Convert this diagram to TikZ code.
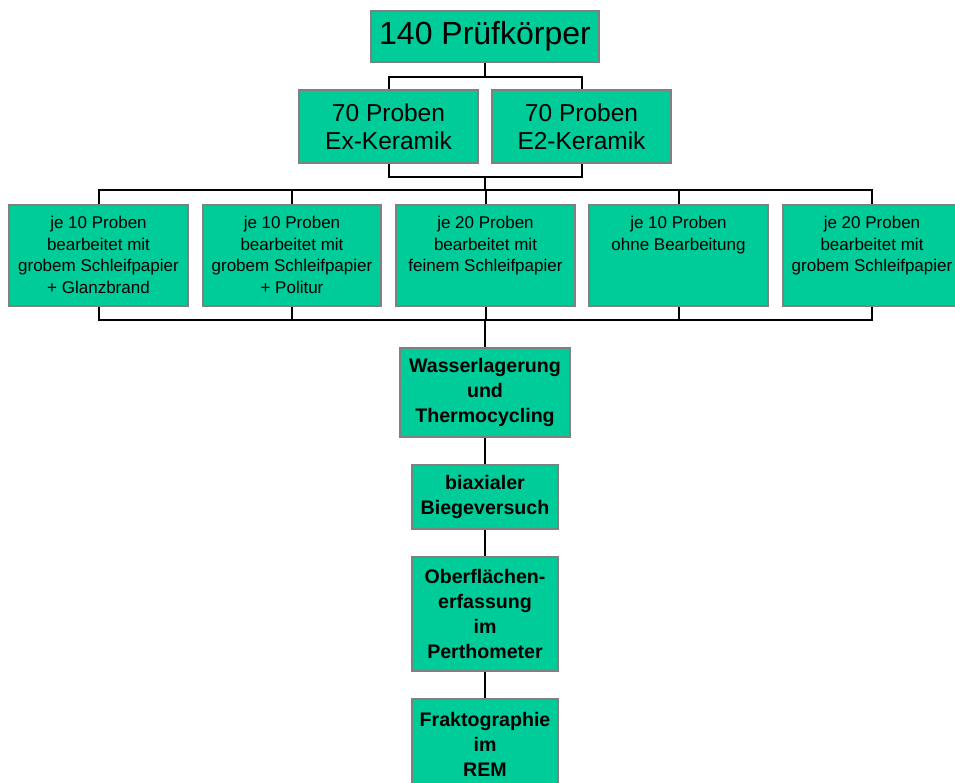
\documentclass[tikz,border=0pt]{standalone}
\usepackage{fontspec}
\setmainfont{Liberation Sans}
\definecolor{boxgreen}{RGB}{0,204,153}
\definecolor{boxedge}{RGB}{128,128,128}
\begin{document}
\begin{tikzpicture}[x=1pt,y=-1pt,
  box/.style={draw=boxedge,line width=2pt,fill=boxgreen,inner sep=0pt,align=center},
  bigtxt/.style={font=\fontsize{32}{38}\selectfont},
  midtxt/.style={font=\fontsize{24.5}{28}\selectfont},
  smalltxt/.style={inner sep=0pt,align=center,anchor=north,font=\fontsize{17}{21.7}\selectfont},
  boldtxt/.style={font=\bfseries\fontsize{19.6}{25}\selectfont},
  conn/.style={line width=2pt,black}]
\useasboundingbox (0,0) rectangle (955,782);
% top
\node[box,bigtxt,minimum width=228pt,minimum height=51pt] (top) at (485,36.5) {140 Prüfkörper};
\node[box,midtxt,minimum width=179pt,minimum height=73pt] (ex) at (388.5,126.5) {70 Proben\\Ex-Keramik};
\node[box,midtxt,minimum width=179pt,minimum height=73pt] (e2) at (581.5,126.5) {70 Proben\\E2-Keramik};
% row
\node[box,minimum width=179pt,minimum height=101pt] (b1) at (98.5,255.5) {};
\node[box,minimum width=178pt,minimum height=101pt] (b2) at (292,255.5) {};
\node[box,minimum width=179pt,minimum height=101pt] (b3) at (485.5,255.5) {};
\node[box,minimum width=179pt,minimum height=101pt] (b4) at (678.5,255.5) {};
\node[box,minimum width=178pt,minimum height=101pt] (b5) at (872,255.5) {};
\node[smalltxt] (t1) at (98.5,216) {je 10 Proben\\bearbeitet mit\\grobem Schleifpapier\\+ Glanzbrand};
\node[smalltxt] (t2) at (292,216) {je 10 Proben\\bearbeitet mit\\grobem Schleifpapier\\+ Politur};
\node[smalltxt] (t3) at (485.5,216) {je 20 Proben\\bearbeitet mit\\feinem Schleifpapier};
\node[smalltxt] (t4) at (678.5,216) {je 10 Proben\\ohne Bearbeitung};
\node[smalltxt] (t5) at (872,216) {je 20 Proben\\bearbeitet mit\\grobem Schleifpapier};
% column
\node[box,boldtxt,minimum width=170pt,minimum height=89pt] (w) at (485,392.5) {Wasserlagerung\\und\\Thermocycling};
\node[box,boldtxt,minimum width=146pt,minimum height=64pt] (bi) at (485,497) {biaxialer\\Biegeversuch};
\node[box,boldtxt,minimum width=146pt,minimum height=114pt] (ob) at (485,614) {Oberflächen-\\erfassung\\im\\Perthometer};
\node[box,boldtxt,minimum width=146pt,minimum height=90pt] (fr) at (485,744) {Fraktographie\\im\\REM};
% junctions
\coordinate (j1) at (485,77);
\coordinate (j2) at (485,177);
\coordinate (j3) at (485,190);
\coordinate (j4) at (485,320);
% connectors
\draw[conn] (top.south) -- (j1);
\draw[conn] (ex.north) -- (ex.north |- j1) -- (e2.north |- j1) -- (e2.north);
\draw[conn] (ex.south) -- (ex.south |- j2) -- (e2.south |- j2) -- (e2.south);
\draw[conn] (j2) -- (j3);
\draw[conn] (b1.north) -- (b1.north |- j3) -- (b5.north |- j3) -- (b5.north);
\draw[conn] (b2.north) -- (b2.north |- j3);
\draw[conn] (b3.north) -- (b3.north |- j3);
\draw[conn] (b4.north) -- (b4.north |- j3);
\draw[conn] (b1.south) -- (b1.south |- j4) -- (b5.south |- j4) -- (b5.south);
\draw[conn] (b2.south) -- (b2.south |- j4);
\draw[conn] (b3.south) -- (b3.south |- j4);
\draw[conn] (b4.south) -- (b4.south |- j4);
\draw[conn] (j4) -- (w.north);
\draw[conn] (w.south) -- (bi.north);
\draw[conn] (bi.south) -- (ob.north);
\draw[conn] (ob.south) -- (fr.north);
\end{tikzpicture}
\end{document}
